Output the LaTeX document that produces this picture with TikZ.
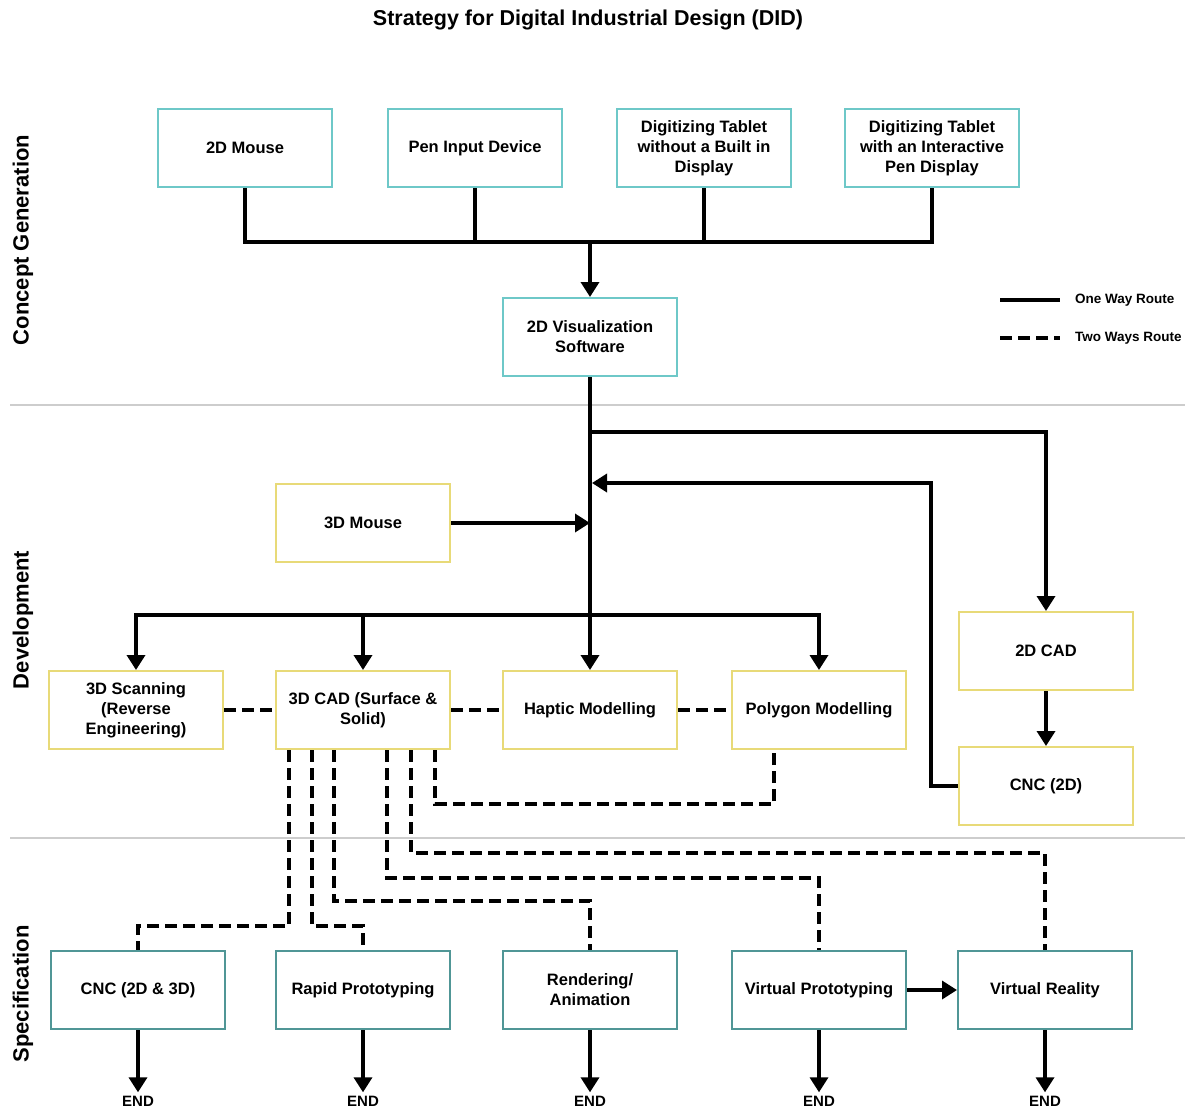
\documentclass[tikz,border=0pt]{standalone}
\usepackage{fontspec}
\setmainfont{Liberation Sans}
\usetikzlibrary{arrows.meta}

\definecolor{tealline}{RGB}{110,200,200}
\definecolor{tealdark}{RGB}{80,150,150}
\definecolor{yellowline}{RGB}{232,218,120}
\definecolor{sepgray}{RGB}{205,205,205}

\tikzset{
  box/.style={draw, line width=2pt, minimum width=174pt, minimum height=78pt,
    align=center, inner sep=2pt, font=\fontsize{16.5}{20}\selectfont\bfseries},
  conbox/.style={box, draw=tealline},
  devbox/.style={box, draw=yellowline},
  specbox/.style={box, draw=tealdark},
  oneway/.style={line width=3.5pt},
  onearrow/.style={oneway, -{Triangle[width=18pt,length=15pt]}},
  twoway/.style={line width=3.5pt, dash pattern=on 12pt off 6pt},
  section/.style={rotate=90, font=\fontsize{22}{26}\selectfont\bfseries},
  endlabel/.style={font=\fontsize{15}{18}\selectfont\bfseries},
  legend/.style={font=\fontsize{13.5}{16}\selectfont\bfseries, anchor=west}
}

\begin{document}
\begin{tikzpicture}[x=1pt, y=-1pt]
  \useasboundingbox (0,0) rectangle (1191,1109);

  % Title
  \node[font=\fontsize{21.5}{26}\selectfont\bfseries] (title) at (588,20)
    {Strategy for Digital Industrial Design (DID)};

  % Section labels and separators
  \node[section] (secconcept) at (23,240) {Concept Generation};
  \node[section] (secdev) at (23,620) {Development};
  \node[section] (secspec) at (23,994) {Specification};
  \draw[sepgray, line width=2pt] (10,405) -- (1185,405);
  \draw[sepgray, line width=2pt] (10,838) -- (1185,838);

  % Legend
  \draw[oneway] (1000,300) -- (1060,300) node[legend, xshift=10pt] (legone) {One Way Route};
  \draw[twoway] (1000,338) -- (1060,338) node[legend, xshift=10pt] (legtwo) {Two Ways Route};

  % Concept generation
  \node[conbox] (mouse2d) at (245,148) {2D Mouse};
  \node[conbox] (pen) at (475,148) {Pen Input Device};
  \node[conbox] (tableta) at (704,148) {Digitizing Tablet\\without a Built in\\Display};
  \node[conbox] (tabletb) at (932,148) {Digitizing Tablet\\with an Interactive\\Pen Display};
  \node[conbox] (vis2d) at (590,337) {2D Visualization\\Software};

  \coordinate (bus) at (590,241);
  \draw[oneway] (mouse2d.south) -- ++(0,54) -| (tabletb.south);
  \draw[oneway] (pen.south) -- (pen.south |- bus);
  \draw[oneway] (tableta.south) -- (tableta.south |- bus);
  \draw[onearrow] (bus) -- (vis2d.north);

  % Development
  \node[devbox] (mouse3d) at (363,523) {3D Mouse};
  \node[devbox] (scan) at (136,710) {3D Scanning\\(Reverse\\Engineering)};
  \node[devbox] (cad3d) at (363,710) {3D CAD (Surface \&\\Solid)};
  \node[devbox] (haptic) at (590,710) {Haptic Modelling};
  \node[devbox] (poly) at (819,710) {Polygon Modelling};
  \node[devbox] (cad2d) at (1046,651) {2D CAD};
  \node[devbox] (cnc2d) at (1046,786) {CNC (2D)};

  \coordinate (split) at (590,432);
  \coordinate (ret) at (592,483);
  \coordinate (bus2) at (590,615);
  \draw[onearrow] (vis2d.south) -- (haptic.north);
  \draw[onearrow] (split) -| (cad2d.north);
  \draw[onearrow] (cad2d.south) -- (cnc2d.north);
  \draw[onearrow] (cnc2d.west) -- ++(-27,0) |- (ret);
  \draw[onearrow] (mouse3d.east) -- (mouse3d.east -| split);
  \draw[onearrow] (bus2) -| (scan.north);
  \draw[onearrow] (bus2) -| (poly.north);
  \draw[onearrow] (cad3d.north |- bus2) -- (cad3d.north);

  \draw[twoway] (scan) -- (cad3d);
  \draw[twoway] (cad3d) -- (haptic);
  \draw[twoway] (haptic) -- (poly);
  \draw[twoway] ([xshift=72pt]cad3d.south) -- ++(0,54) -| ([xshift=-45pt]poly.south);

  % Specification
  \node[specbox] (cnc) at (138,990) {CNC (2D \& 3D)};
  \node[specbox] (rapid) at (363,990) {Rapid Prototyping};
  \node[specbox] (render) at (590,990) {Rendering/\\Animation};
  \node[specbox] (vproto) at (819,990) {Virtual Prototyping};
  \node[specbox] (vr) at (1045,990) {Virtual Reality};

  \draw[twoway] ([xshift=-74pt]cad3d.south) -- ++(0,176) -| (cnc.north);
  \draw[twoway] ([xshift=-51pt]cad3d.south) -- ++(0,176) -| (rapid.north);
  \draw[twoway] ([xshift=-29pt]cad3d.south) -- ++(0,151) -| (render.north);
  \draw[twoway] ([xshift=24pt]cad3d.south) -- ++(0,128) -| (vproto.north);
  \draw[twoway] ([xshift=48pt]cad3d.south) -- ++(0,103) -| (vr.north);
  \draw[onearrow] (vproto) -- (vr);

  % End points
  \foreach \n/\m in {cnc/endcnc, rapid/endrapid, render/endrender, vproto/endvproto, vr/endvr} {
    \node[endlabel] (\m) at ([yshift=-71pt]\n.south) {END};
    \draw[onearrow] (\n.south) -- (\m.north);
  }
\end{tikzpicture}
\end{document}
